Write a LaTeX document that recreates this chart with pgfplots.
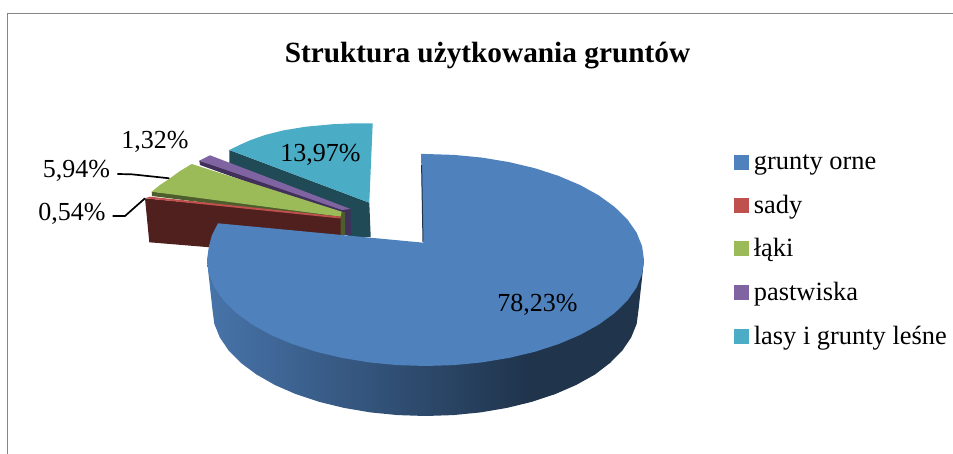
\documentclass[border=0pt]{standalone}
\usepackage{pgfplots}
\pgfplotsset{compat=1.18}
\usepackage{fontspec}
\setmainfont{Liberation Serif}
\definecolor{cblue}{HTML}{4F81BD}
\definecolor{cred}{HTML}{C0504D}
\definecolor{cgreen}{HTML}{9BBB59}
\definecolor{cpurple}{HTML}{8064A2}
\definecolor{cteal}{HTML}{4BACC6}
\definecolor{dred}{HTML}{50201E}
\definecolor{dgreen}{HTML}{4D5D2C}
\definecolor{dpurple}{HTML}{40305A}
\definecolor{dteal}{HTML}{1F4A56}
\definecolor{framec}{HTML}{868686}
\pgfdeclarehorizontalshading{blueside}{100bp}{
 color(0bp)=(cblue!90!black); color(25bp)=(cblue!90!black);
 color(62bp)=(cblue!40!black); color(75bp)=(cblue!40!black); color(100bp)=(cblue!40!black)}
\newcommand{\lab}[1]{\fontsize{26}{30}\selectfont #1}
\begin{document}
\begin{tikzpicture}
\useasboundingbox (0,0) rectangle (953pt,454pt);
\begin{axis}[
  at={(0,0)}, anchor=south west,
  scale only axis, width=953pt, height=454pt,
  xmin=0, xmax=953, ymin=0, ymax=454, y dir=reverse,
  hide axis, clip=true,
  legend cell align=left,
  legend style={at={(axis cs:734,152.5)}, anchor=north west, draw=none, fill=none,
    inner sep=0pt, outer sep=0pt, font=\fontsize{26.4}{30}\selectfont,
    row sep=20pt, column sep=3.5pt},
  legend image code/.code={\fill[#1] (0pt,-7pt) rectangle (14pt,7pt);},
]
\addlegendimage{cblue}
\addlegendimage{cred}
\addlegendimage{cgreen}
\addlegendimage{cpurple}
\addlegendimage{cteal}
\legend{grunty orne,sady,łąki,pastwiska,lasy i grunty leśne}

% frame
\addplot[framec, line width=1.5pt] coordinates {(7.5,454) (7.5,13.7) (953,13.7)};

% lasy i grunty lesne (13,97)
\addplot[fill=dteal, draw=none] coordinates {(229.3,150) (369.3,202.7) (370.7,237) (350,237) (229.3,163)};
\addplot[fill=cteal, draw=none] coordinates {(229.3,150) (240,144.8) (250,140.3) (265,135) (283,130.5) (305,126.8) (333,124.2) (352,123.4) (372.7,123.3) (369.3,202.7)};

% pastwiska (1,32)
\addplot[fill=dpurple, draw=none] coordinates {(199.3,160.7) (350.5,209) (351,235) (341,235) (341,216) (200,165)};
\addplot[fill=cpurple, draw=none] coordinates {(199.3,160.7) (210,155.3) (350.5,209) (342,210)};

% laki (5,94)
\addplot[fill=dgreen, draw=none] coordinates {(151.7,191.7) (341.7,211.7) (345,212) (345,235) (340,235) (340,220) (152,196)};
\addplot[fill=cgreen, draw=none] coordinates {(151.7,191.7) (160,185) (170,178.3) (180,171) (191.7,164) (341.7,211.7) (340.7,216.7)};

% sady (0,54)
\addplot[fill=dred, draw=none] coordinates {(145,198.3) (340.7,217) (340.7,235) (240,247) (210,247.3) (149.3,242.3)};
\addplot[fill=cred, draw=none] coordinates {(145,198.3) (150,196.7) (340.7,216.7) (340.7,218.5)};

% grunty orne (78,23): side
\addplot[shading=blueside, draw=none] coordinates {(207,260) (644,260) (638.5,310) (636.7,323.8) (631.2,337.4) (622.3,350.6) (610,363) (595,374.5) (576.1,385) (555.2,394.1) (532,401.8) (507,407.9) (480.6,412.4) (453.3,415.1) (425.5,416) (397.7,415.1) (370.4,412.4) (344,407.9) (319,401.8) (295.8,394.1) (274.9,385) (256.5,374.5) (241,363) (228.7,350.6) (219.8,337.4) (214.3,323.8) (212.5,310)};
% top
\addplot[fill=cblue, draw=none] coordinates {(421,154) (425.5,154) (454,154.9) (482,157.6) (509.1,162.1) (534.8,168.2) (558.5,175.9) (580,185) (598.9,195.5) (614.7,207) (627.4,219.4) (636.6,232.6) (642.1,246.2) (644,260) (642.1,273.8) (636.6,287.4) (627.4,300.6) (614.7,313) (598.9,324.5) (580,335) (558.5,344.1) (534.8,351.8) (509.1,357.9) (482,362.4) (454,365.1) (425.5,366) (397,365.1) (369,362.4) (341.9,357.9) (316.2,351.8) (292.5,344.1) (271,335) (252.1,324.5) (236.3,313) (223.6,300.6) (214.4,287.4) (208.9,273.8) (207,260) (208.9,246.2) (212,235) (218,223.3) (423.3,242.7)};
\addplot[color=cblue!40!black, line width=1pt] coordinates {(421.6,165) (423,242)};

% leaders
\addplot[black, line width=1.7pt] coordinates {(117.3,174) (131.7,174.3) (169.3,178.3)};
\addplot[black, line width=1.7pt] coordinates {(112.7,216) (125,216) (145,198.3)};

\node[anchor=base, inner sep=0pt] at (axis cs:487.5,63) {\fontsize{29.3}{32}\selectfont\bfseries Struktura użytkowania gruntów};
\node[anchor=base, inner sep=0pt] at (axis cs:155,148.3) {\lab{1,32\%}};
\node[anchor=base, inner sep=0pt] at (axis cs:320.5,161.7) {\lab{13,97\%}};
\node[anchor=base, inner sep=0pt] at (axis cs:76.5,178) {\lab{5,94\%}};
\node[anchor=base, inner sep=0pt] at (axis cs:72,221) {\lab{0,54\%}};
\node[anchor=base, inner sep=0pt] at (axis cs:537.5,311.7) {\lab{78,23\%}};
\end{axis}
\end{tikzpicture}
\end{document}
